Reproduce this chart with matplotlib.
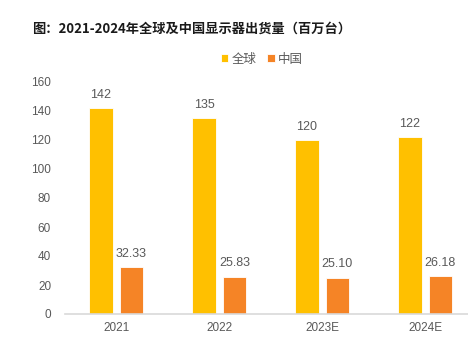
import numpy as np
import matplotlib
matplotlib.use("Agg")
import matplotlib.pyplot as plt

plt.rcParams["font.family"] = ["Liberation Sans", "Noto Sans CJK SC"]

# data
years = ["2021", "2022", "2023E", "2024E"]
global_ship = [142, 135, 120, 122]
china_ship = [32.33, 25.83, 25.10, 26.18]
global_labels = ["142", "135", "120", "122"]
china_labels = ["32.33", "25.83", "25.10", "26.18"]

W, H = 468, 344
fig = plt.figure(figsize=(W / 100, H / 100), dpi=100)
ax = fig.add_axes([65 / W, 30 / H, 412 / W, 232 / H])

x = np.arange(len(years))
bw = 0.225
gold = "#FFC000"
orange = "#F58426"
ax.bar(x - 0.15, global_ship, bw, color=gold, edgecolor="white", linewidth=0.6, label="全球")
ax.bar(x + 0.145, china_ship, bw, color=orange, edgecolor="white", linewidth=0.6, label="中国")

txt = "#595959"
for i in range(len(years)):
    ax.text(x[i] - 0.15, global_ship[i] + 5, global_labels[i], ha="center", va="bottom",
            fontsize=9, color=txt)
    ax.text(x[i] + 0.145, china_ship[i] + 5, china_labels[i], ha="center", va="bottom",
            fontsize=9, color=txt)

ax.set_xlim(-0.5, 3.5)
ax.set_ylim(0, 160)
ax.set_yticks(np.arange(0, 161, 20))
ax.set_xticks(x)
ax.set_xticklabels(years)
ax.tick_params(axis="both", length=0, labelsize=8.5, colors=txt)
ax.tick_params(axis="y", pad=10)
ax.tick_params(axis="x", pad=6)
for s in ["top", "right", "left"]:
    ax.spines[s].set_visible(False)
ax.spines["bottom"].set_color("#D9D9D9")
ax.spines["bottom"].set_linewidth(1.2)

fig.text(32 / W, 1 - 29 / H, "图：2021-2024年全球及中国显示器出货量（百万台）",
         fontsize=9.5, fontweight="bold", color="#1a1a1a", va="center",
         family=["Noto Sans CJK SC"])

fig.legend(loc="center", bbox_to_anchor=(262 / W, 1 - 59 / H), ncol=2, frameon=False,
           fontsize=9, handlelength=0.6, handleheight=0.6, handletextpad=0.3,
           columnspacing=0.8, labelcolor=txt, prop={"family": "Noto Sans CJK SC", "size": 9})

fig.savefig("out.png", dpi=100)
